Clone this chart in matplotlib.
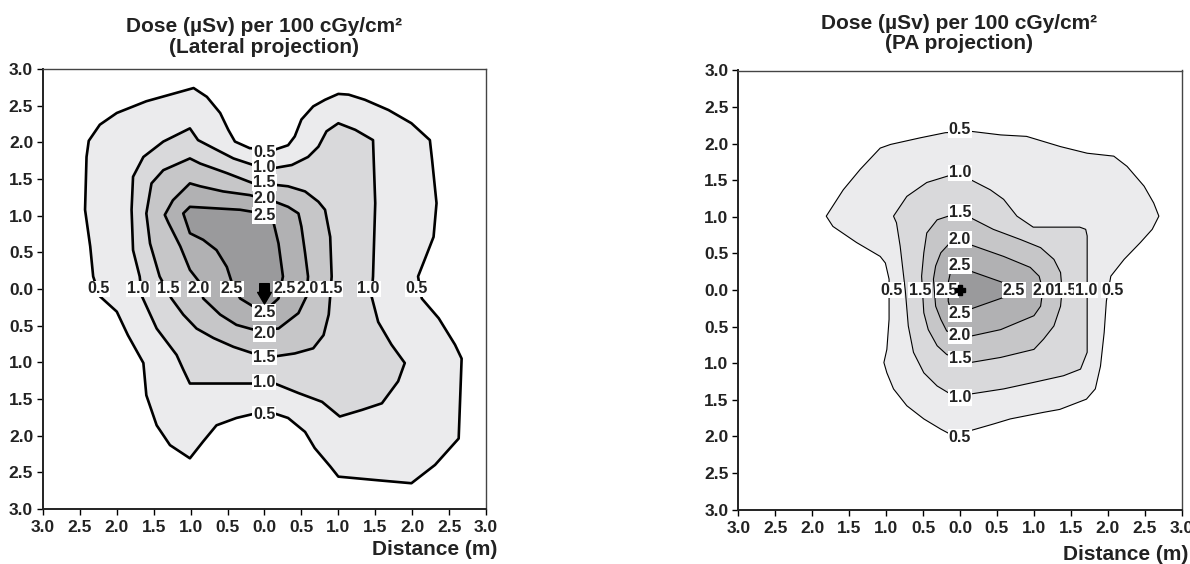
import matplotlib
matplotlib.use('Agg')
import matplotlib.pyplot as plt
from matplotlib.patches import Polygon
from matplotlib.path import Path
import numpy as np

plt.rcParams['font.family'] = ['Liberation Sans', 'DejaVu Sans']
plt.rcParams['font.weight'] = 'bold'

# ---------------- data: isodose contours (metres from source) ----------------
levels = ['0.5', '1.0', '1.5', '2.0', '2.5']

# Lateral projection
lat_05_x = [-2.38, -2.23, -2.0, -1.60, -1.28, -0.96, -0.78, -0.60, -0.49, -0.40, -0.20, 0.14, 0.32, 0.41, 0.50,
            0.66, 0.82, 1.00, 1.14, 1.36, 1.68, 1.99, 2.24, 2.27, 2.33, 2.29, 2.17, 2.08, 2.13, 2.36, 2.58, 2.67,
            2.63, 2.31, 1.99, 1.54, 1.00, 0.89, 0.68, 0.55, 0.32, 0.14, -0.13, -0.38, -0.65, -0.83, -1.01, -1.28,
            -1.46, -1.60, -1.64, -1.85, -2.0, -2.23, -2.32, -2.36, -2.43, -2.41]
lat_05_y = [2.02, 2.24, 2.40, 2.56, 2.65, 2.74, 2.62, 2.40, 2.17, 2.01, 1.92, 1.90, 1.96, 2.08, 2.31,
            2.49, 2.58, 2.66, 2.65, 2.58, 2.44, 2.26, 2.03, 1.76, 1.17, 0.71, 0.40, 0.17, -0.13, -0.40, -0.76, -0.95,
            -2.04, -2.40, -2.65, -2.61, -2.56, -2.42, -2.17, -1.95, -1.76, -1.70, -1.70, -1.76, -1.86, -2.08, -2.31, -2.13,
            -1.86, -1.45, -1.01, -0.63, -0.31, -0.10, 0.17, 0.58, 1.08, 1.80]

lat_10_x = [-1.80, -1.78, -1.64, -1.37, -1.01, -0.90, -0.69, -0.42, -0.15, 0.14, 0.37, 0.59, 0.73, 0.84, 1.0,
            1.23, 1.47, 1.50, 1.47, 1.45, 1.54, 1.72, 1.90, 1.81, 1.59, 1.32, 1.02, 0.78, 0.46, 0.14, -1.01,
            -1.10, -1.19, -1.46, -1.66, -1.69, -1.78]
lat_10_y = [1.08, 1.53, 1.80, 2.01, 2.19, 2.03, 1.92, 1.78, 1.69, 1.65, 1.69, 1.80, 1.94, 2.15, 2.26,
            2.17, 2.03, 1.17, 0.17, -0.10, -0.45, -0.76, -1.01, -1.26, -1.56, -1.65, -1.74, -1.54, -1.42, -1.29, -1.29,
            -1.10, -0.90, -0.54, -0.10, 0.17, 0.53]

lat_15_x = [-1.60, -1.53, -1.37, -1.01, -0.87, -0.51, -0.15, 0.14, 0.32, 0.55, 0.73, 0.82, 0.89, 0.91, 0.89,
            0.87, 0.80, 0.66, 0.41, 0.14, -0.15, -0.42, -0.69, -0.92, -1.10, -1.26, -1.42, -1.55]
lat_15_y = [1.03, 1.44, 1.62, 1.78, 1.71, 1.58, 1.44, 1.42, 1.40, 1.33, 1.19, 1.08, 0.71, 0.17, -0.10,
            -0.35, -0.63, -0.81, -0.88, -0.92, -0.88, -0.79, -0.67, -0.54, -0.35, -0.13, 0.17, 0.62]

lat_20_x = [-1.35, -1.24, -1.01, -0.87, -0.56, -0.20, 0.14, 0.32, 0.46, 0.50, 0.55, 0.59, 0.57, 0.46, 0.19,
            -0.13, -0.38, -0.60, -0.83, -0.87, -1.01, -1.14, -1.30]
lat_20_y = [1.01, 1.21, 1.44, 1.40, 1.33, 1.28, 1.19, 1.12, 1.03, 0.85, 0.49, 0.17, -0.10, -0.33, -0.54,
            -0.56, -0.49, -0.35, -0.13, 0.08, 0.26, 0.58, 0.90]

lat_25_x = [-1.10, -1.01, -0.33, -0.15, 0.10, 0.19, 0.25, 0.19, 0.05, -0.15, -0.33, -0.44, -0.51, -0.65, -0.83, -1.01]
lat_25_y = [1.03, 1.12, 1.08, 1.05, 1.00, 0.62, 0.17, -0.13, -0.26, -0.24, -0.13, 0.08, 0.30, 0.53, 0.67, 0.76]

# PA projection
pa_05_x = [-1.81, -1.58, -1.35, -1.08, -0.94, -0.54, -0.20, 0.14, 0.55, 0.90, 1.13, 1.36, 1.72, 2.08, 2.26,
           2.49, 2.62, 2.69, 2.60, 2.44, 2.22, 2.04, 1.98, 1.95, 1.90, 1.83, 1.71, 1.35, 1.13, 0.68, 0.45, 0.14,
           -0.13, -0.26, -0.49, -0.72, -0.90, -0.99, -1.03, -0.99, -0.96, -0.96, -1.01, -1.08, -1.40, -1.72]
pa_05_y = [1.01, 1.37, 1.65, 1.94, 1.99, 2.08, 2.15, 2.17, 2.12, 2.10, 2.03, 1.96, 1.87, 1.83, 1.69,
           1.42, 1.19, 1.01, 0.83, 0.65, 0.42, 0.19, -0.15, -0.58, -1.04, -1.35, -1.49, -1.63, -1.67, -1.76, -1.83, -1.92,
           -1.97, -1.90, -1.76, -1.58, -1.35, -1.13, -0.99, -0.81, -0.40, 0.15, 0.37, 0.46, 0.65, 0.87]

pa_10_x = [-0.90, -0.72, -0.45, -0.16, 0.14, 0.41, 0.59, 0.77, 0.99, 1.62, 1.70, 1.72, 1.72, 1.72, 1.63,
           1.40, 1.0, 0.59, 0.14, -0.13, -0.31, -0.49, -0.63, -0.70, -0.74, -0.81, -0.86]
pa_10_y = [1.01, 1.28, 1.47, 1.56, 1.51, 1.37, 1.24, 1.01, 0.86, 0.86, 0.83, 0.74, -0.40, -0.85, -1.08,
           -1.17, -1.26, -1.35, -1.42, -1.42, -1.31, -1.13, -0.85, -0.49, -0.01, 0.60, 0.92]

pa_15_x = [-0.45, -0.31, -0.16, 0.14, 0.45, 0.82, 1.09, 1.27, 1.36, 1.38, 1.36, 1.27, 1.13, 1.0, 0.55,
           0.14, -0.18, -0.31, -0.43, -0.49, -0.52, -0.49]
pa_15_y = [0.78, 0.96, 1.01, 0.99, 0.83, 0.69, 0.58, 0.42, 0.24, 0.0, -0.22, -0.49, -0.67, -0.81, -0.92,
           -0.99, -0.88, -0.76, -0.54, -0.31, 0.19, 0.51]

pa_20_x = [-0.26, -0.16, 0.14, 0.59, 0.95, 1.07, 1.12, 1.09, 1.0, 0.55, 0.14, -0.18, -0.26, -0.33, -0.36, -0.33]
pa_20_y = [0.51, 0.62, 0.62, 0.46, 0.31, 0.19, 0.0, -0.22, -0.35, -0.54, -0.63, -0.56, -0.40, -0.22, 0.15, 0.33]

pa_25_x = [-0.13, 0.14, 0.59, 0.65, 0.59, 0.14, -0.13, -0.16, -0.16]
pa_25_y = [0.24, 0.26, 0.10, 0.0, -0.10, -0.26, -0.26, -0.15, 0.10]

# contour label positions and texts
lat_lab_x = [-2.25, -1.71, -1.30, -0.89, -0.44, 0.28, 0.58, 0.90, 1.41, 2.06,
             0, 0, 0, 0, 0, 0, 0, 0, 0, 0]
lat_lab_y = [0, 0, 0, 0, 0, 0, 0, 0, 0, 0,
             1.86, 1.66, 1.45, 1.23, 1.00, -0.32, -0.61, -0.93, -1.27, -1.71]
lat_lab_t = ['0.5', '1.0', '1.5', '2.0', '2.5', '2.5', '2.0', '1.5', '1.0', '0.5',
             '0.5', '1.0', '1.5', '2.0', '2.5', '2.5', '2.0', '1.5', '1.0', '0.5']

pa_lab_x = [-0.92, -0.54, -0.18, 0.73, 1.13, 1.43, 1.71, 2.07,
            0, 0, 0, 0, 0, 0, 0, 0, 0, 0]
pa_lab_y = [0, 0, 0, 0, 0, 0, 0, 0,
            2.19, 1.60, 1.06, 0.69, 0.34, -0.32, -0.62, -0.94, -1.47, -2.01]
pa_lab_t = ['0.5', '1.5', '2.5', '2.5', '2.0', '1.5', '1.0', '0.5',
            '0.5', '1.0', '1.5', '2.0', '2.5', '2.5', '2.0', '1.5', '1.0', '0.5']

source_x, source_y = 0.0, 0.0
tick_vals = [-3.0, -2.5, -2.0, -1.5, -1.0, -0.5, 0.0, 0.5, 1.0, 1.5, 2.0, 2.5, 3.0]

lat_title = 'Dose (µSv) per 100 cGy/cm²\n(Lateral projection)'
pa_title = 'Dose (µSv) per 100 cGy/cm²\n(PA projection)'
xlabel = 'Distance (m)'

# ---------------- drawing ----------------
fills = ['#ebebed', '#d9d9db', '#c6c6c8', '#b1b1b3', '#9a9a9c']

fig = plt.figure(figsize=(11.9, 5.64), dpi=100)
ax1 = fig.add_axes([0.0361, 0.0977, 0.3723, 0.7800])
ax2 = fig.add_axes([0.6204, 0.0963, 0.3727, 0.7787])


def setup(ax):
    ax.set_xlim(-3, 3)
    ax.set_ylim(-3, 3)
    ax.set_xticks(tick_vals)
    ax.set_yticks(tick_vals)
    ax.set_xticklabels([f'{abs(t):.1f}' for t in tick_vals])
    ax.set_yticklabels([f'{abs(t):.1f}' for t in tick_vals])
    ax.tick_params(direction='out', length=4, width=1.0, labelsize=12.5)
    ax.tick_params(axis='x', pad=4)
    ax.tick_params(axis='y', pad=3)
    for s in ['left', 'bottom']:
        ax.spines[s].set_linewidth(1.4)
        ax.spines[s].set_color('#222222')
    for s in ['top', 'right']:
        ax.spines[s].set_linewidth(1.0)
        ax.spines[s].set_color('#444444')
    for lab in ax.get_xticklabels() + ax.get_yticklabels():
        lab.set_fontweight('bold')
        lab.set_color('#222222')


def draw(ax, polys, lw, lab_x, lab_y, lab_t):
    for (px, py), fc in zip(polys, fills):
        ax.add_patch(Polygon(np.column_stack([px, py]), closed=True, facecolor=fc,
                             edgecolor='black', linewidth=lw, joinstyle='round', zorder=2))
    for x, y, t in zip(lab_x, lab_y, lab_t):
        ax.text(x, y, t, ha='center', va='center', fontsize=11.5, fontweight='bold', color='#222222',
                zorder=5, bbox=dict(boxstyle='square,pad=0.05', fc='white', ec='none'))


setup(ax1)
setup(ax2)
draw(ax1, [(lat_05_x, lat_05_y), (lat_10_x, lat_10_y), (lat_15_x, lat_15_y),
           (lat_20_x, lat_20_y), (lat_25_x, lat_25_y)], 1.9, lat_lab_x, lat_lab_y, lat_lab_t)
draw(ax2, [(pa_05_x, pa_05_y), (pa_10_x, pa_10_y), (pa_15_x, pa_15_y),
           (pa_20_x, pa_20_y), (pa_25_x, pa_25_y)], 0.8, pa_lab_x, pa_lab_y, pa_lab_t)

# source markers
arrow = Path([(-0.33, 0.4), (0.33, 0.4), (0.33, -0.2), (0.47, -0.2), (0, -1.0), (-0.47, -0.2),
              (-0.33, -0.2), (-0.33, 0.4)],
             [Path.MOVETO] + [Path.LINETO] * 6 + [Path.CLOSEPOLY])
ax1.plot([source_x], [source_y], marker=arrow, markersize=21, color='black', zorder=6, linestyle='none')
ax2.plot([source_x], [source_y], marker='P', markersize=7, color='black', zorder=6, linestyle='none')

fig.text(0.222, 0.934, lat_title, ha='center', va='center', fontsize=15, fontweight='bold',
         color='#222222', linespacing=1.1)
fig.text(0.806, 0.941, pa_title, ha='center', va='center', fontsize=15, fontweight='bold',
         color='#222222', linespacing=1.1)
fig.text(0.4176, 0.025, xlabel, ha='right', va='center', fontsize=15, fontweight='bold', color='#222222')
fig.text(0.9985, 0.016, xlabel, ha='right', va='center', fontsize=15, fontweight='bold', color='#222222')

fig.savefig('out.png', dpi=100)
